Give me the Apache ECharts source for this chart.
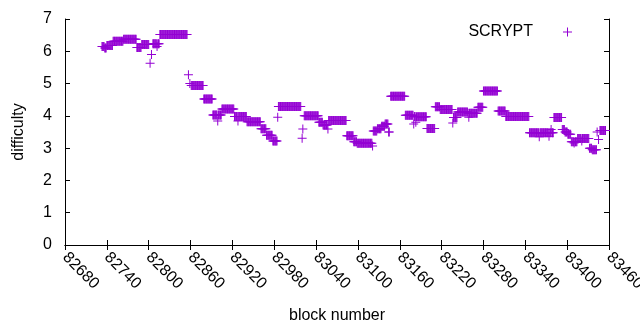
<!DOCTYPE html>
<html>
<head>
<meta charset="utf-8">
<script src="https://cdn.jsdelivr.net/npm/echarts@6/dist/echarts.min.js"></script>
<style>
  html, body { margin: 0; padding: 0; background: #fff; }
  #chart { width: 640px; height: 330px; }
</style>
</head>
<body>
<div id="chart"></div>
<script>
// block ticks on the x axis
const xTicks = [82680, 82740, 82800, 82860, 82920, 82980, 83040, 83100, 83160, 83220, 83280, 83340, 83400, 83460]
const yTicks = [0, 1, 2, 3, 4, 5, 6, 7]

// difficulty stays flat for runs of blocks: first block, last block, value
const runStart = [
  82733, 82737, 82740, 82749, 82764, 82783, 82790, 82802, 82804, 82806, 82812, 82813, 82816,
  82857, 82859, 82861, 82879, 82892, 82899, 82900, 82905, 82923, 82928, 82929, 82941, 82961,
  82969, 82978, 82985, 82986, 83020, 83021, 83023, 83044, 83050, 83057, 83058, 83084, 83094,
  83099, 83121, 83122, 83128, 83134, 83139, 83144, 83147, 83168, 83180, 83181, 83183, 83184,
  83199, 83211, 83218, 83236, 83237, 83243, 83258, 83259, 83260, 83272, 83280, 83301, 83312,
  83346, 83360, 83361, 83374, 83375, 83377, 83378, 83381, 83393, 83397, 83401, 83406, 83410,
  83411, 83415, 83421, 83422, 83432, 83436, 83443, 83445, 83447
]
const runEnd = [
  82736, 82739, 82748, 82763, 82782, 82789, 82800, 82802, 82804, 82811, 82812, 82815, 82855,
  82857, 82859, 82878, 82891, 82898, 82899, 82904, 82922, 82927, 82928, 82940, 82960, 82968,
  82977, 82984, 82985, 83018, 83020, 83021, 83043, 83049, 83056, 83057, 83083, 83093, 83098,
  83120, 83121, 83127, 83133, 83138, 83143, 83145, 83167, 83179, 83180, 83182, 83183, 83198,
  83210, 83217, 83235, 83236, 83242, 83257, 83258, 83259, 83271, 83279, 83300, 83311, 83345,
  83359, 83360, 83373, 83374, 83376, 83377, 83380, 83392, 83396, 83400, 83405, 83409, 83410,
  83414, 83420, 83421, 83431, 83435, 83442, 83443, 83445, 83455
]
const runValue = [
  6.15, 6.1, 6.18, 6.31, 6.37, 6.12, 6.21, 5.63, 5.9, 6.23, 6.15, 6.23, 6.52,
  5.27, 5.0, 4.94, 4.52, 4.03, 3.84, 4.03, 4.21, 3.98, 3.84, 3.98, 3.82, 3.6,
  3.4, 3.22, 3.96, 4.29, 3.31, 3.59, 4.0, 3.8, 3.72, 3.59, 3.86, 3.38, 3.2,
  3.15, 3.07, 3.53, 3.6, 3.68, 3.75, 3.5, 4.61, 4.02, 3.75, 3.98, 3.8, 3.97,
  3.61, 4.28, 4.2, 3.78, 3.95, 4.12, 4.08, 3.96, 4.08, 4.27, 4.77, 4.15, 3.98,
  3.48, 3.35, 3.48, 3.37, 3.48, 3.58, 3.48, 3.95, 3.58, 3.5, 3.43, 3.2, 3.16,
  3.2, 3.3, 3.22, 3.3, 3.0, 2.95, 3.5, 3.27, 3.55
]

const seriesName = 'SCRYPT'
const violet = '#9400d3'
const plus = 'path://M4,0H5V4H9V5H5V9H4V5H0V4H4Z'
const font = '"Liberation Sans", Arial, sans-serif'

// one point per block
const points = []
runStart.forEach((s, i) => {
  for (let b = s; b <= runEnd[i]; b++) points.push([b, runValue[i]])
})

const chart = echarts.init(document.getElementById('chart'), null, {renderer: 'canvas'})

const boxAxis = {
  axisLine: {show: true, lineStyle: {color: '#000', width: 1}},
  axisTick: {show: true, inside: true, length: 5, lineStyle: {color: '#000'}},
  splitLine: {show: false}
}

const xBase = {
  type: 'value',
  min: xTicks[0],
  max: xTicks[xTicks.length - 1],
  interval: xTicks[1] - xTicks[0],
  ...boxAxis
}
const yBase = {
  type: 'value',
  min: yTicks[0],
  max: yTicks[yTicks.length - 1],
  interval: yTicks[1] - yTicks[0],
  ...boxAxis
}

chart.setOption({
  animation: false,
  textStyle: {fontFamily: font},
  grid: {left: 65, right: 31, top: 19, bottom: 85, containLabel: false, outerBoundsMode: 'none'},
  legend: {
    data: [seriesName],
    right: 63,
    top: 19,
    align: 'right',
    icon: plus,
    itemWidth: 9,
    itemHeight: 9,
    textStyle: {color: '#000', fontSize: 16, fontFamily: font, padding: [0, 25, 0, 0]}
  },
  xAxis: [
    {
      ...xBase,
      position: 'bottom',
      name: 'block number',
      nameLocation: 'middle',
      nameGap: 63,
      nameTextStyle: {color: '#000', fontSize: 16, fontFamily: font},
      axisLabel: {
        rotate: -45, margin: 10, color: '#000', fontSize: 16, fontFamily: font,
        showMinLabel: true, showMaxLabel: true,
        formatter: v => String(v)
      }
    },
    {...xBase, position: 'top', axisLabel: {show: false}}
  ],
  yAxis: [
    {
      ...yBase,
      position: 'left',
      name: 'difficulty',
      nameLocation: 'middle',
      nameRotate: 90,
      nameGap: 38,
      nameTextStyle: {color: '#000', fontSize: 16, fontFamily: font},
      axisLabel: {margin: 13, color: '#000', fontSize: 16, fontFamily: font}
    },
    {...yBase, position: 'right', axisLabel: {show: false}}
  ],
  series: [{
    name: seriesName,
    type: 'scatter',
    data: points,
    symbol: plus,
    symbolSize: 9,
    itemStyle: {color: violet, opacity: 1},
    emphasis: {disabled: true}
  }]
})

window.addEventListener('resize', () => chart.resize())
</script>
</body>
</html>
